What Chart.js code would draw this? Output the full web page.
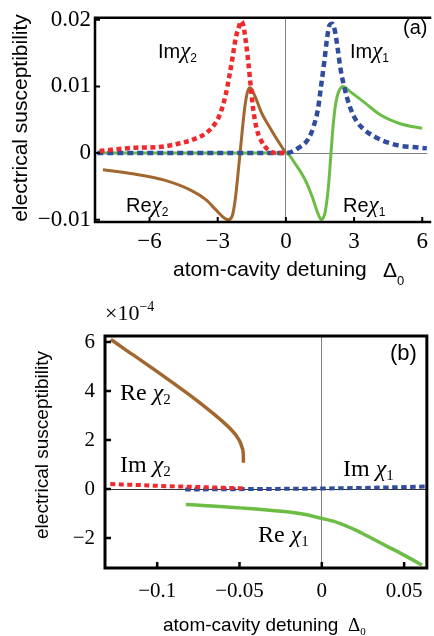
<!DOCTYPE html>
<html>
<head>
<meta charset="utf-8">
<script src="https://cdn.jsdelivr.net/npm/chart.js@4.4.1/dist/chart.umd.min.js"></script>
<style>
  html, body { margin: 0; padding: 0; background: #fff; overflow: hidden; }
  .panel { position: absolute; left: 0; width: 434px; }
  #pa { top: 0; height: 300px; }
  #pb { top: 300px; height: 336px; }
</style>
</head>
<body>
<div class="panel" id="pa"><canvas id="ca"></canvas></div>
<div class="panel" id="pb"><canvas id="cb"></canvas></div>
<script>
// ---------- panel (a): wide detuning range ----------
const reChi1X_a = [-8.3, -4, 0, 0.43, 0.86, 1.15, 1.37, 1.46, 1.55, 1.63, 1.72, 1.87, 1.98, 2.08, 2.20, 2.33, 2.51, 2.87, 3.45, 4.17, 5.03, 6.0];
const reChi1Y_a = [0, 0, 0, -0.0017, -0.0041, -0.0065, -0.0087, -0.0095, -0.0100, -0.0098, -0.0090, -0.0051, -0.0002, 0.0042, 0.0076, 0.0093, 0.0100, 0.0091, 0.0076, 0.0057, 0.0044, 0.0037];

const imChi1X_a = [-8.3, -4, 0, 0.57, 1.0, 1.22, 1.41, 1.55, 1.70, 1.80, 1.91, 2.04, 2.16, 2.27, 2.41, 2.59, 2.80, 3.09, 3.45, 3.88, 4.31, 5.0, 5.6, 6.2];
const imChi1Y_a = [0, 0, 0, 0.0008, 0.0022, 0.0040, 0.0066, 0.0101, 0.0140, 0.0169, 0.0191, 0.0194, 0.0183, 0.0159, 0.0125, 0.0096, 0.0071, 0.0049, 0.0035, 0.0025, 0.0018, 0.0011, 0.0009, 0.0007];

const imChi2X_a = [-8.2, -6.61, -5.6, -4.74, -3.95, -3.52, -3.16, -2.87, -2.66, -2.49, -2.34, -2.20, -2.08, -1.97, -1.87, -1.77, -1.65, -1.55, -1.44, -1.29, -1.08, -0.79, -0.43, 0];
const imChi2Y_a = [0.0003, 0.0008, 0.0009, 0.0014, 0.0022, 0.0030, 0.0042, 0.0061, 0.0086, 0.0115, 0.0145, 0.0174, 0.0188, 0.0198, 0.0191, 0.0169, 0.0135, 0.0101, 0.0066, 0.0037, 0.0018, 0.0005, 0.0000, 0];

const reChi2X_a = [-8.05, -6.75, -5.31, -4.17, -3.52, -3.09, -2.73, -2.54, -2.37, -2.23, -2.08, -1.94, -1.80, -1.68, -1.57, -1.37, -1.08, -0.65, -0.29, 0];
const reChi2Y_a = [-0.0025, -0.0031, -0.0041, -0.0056, -0.0070, -0.0085, -0.0097, -0.0100, -0.0095, -0.0070, -0.0022, 0.0027, 0.0071, 0.0093, 0.0098, 0.0086, 0.0061, 0.0035, 0.0015, 0];

const xTicks_a = [-6, -3, 0, 3, 6];
const xTickLabels_a = ['\u22126', '\u22123', '0', '3', '6'];
const yTicks_a = [-0.01, 0, 0.01, 0.02];
const yTickLabels_a = ['\u22120.01', '0', '0.01', '0.02'];

// ---------- panel (b): narrow detuning range (units of 1e-4) ----------
const reChi2X_b = [-0.1282, -0.12, -0.11, -0.10, -0.09, -0.08, -0.07, -0.06, -0.055, -0.052, -0.0495, -0.0483, -0.0477, -0.0476];
const reChi2Y_b = [6.11, 5.72, 5.26, 4.79, 4.31, 3.82, 3.30, 2.74, 2.42, 2.18, 1.90, 1.66, 1.42, 1.07];

const imChi2X_b = [-0.1285, -0.11, -0.10, -0.08, -0.06, -0.0476];
const imChi2Y_b = [0.20, 0.16, 0.13, 0.09, 0.05, 0.03];

const imChi1X_b = [-0.083, -0.04, 0, 0.03, 0.0638];
const imChi1Y_b = [-0.02, 0.0, 0.02, 0.05, 0.10];

const reChi1X_b = [-0.0826, -0.07, -0.06, -0.05, -0.04, -0.03, -0.02, -0.01, 0, 0.01, 0.02, 0.03, 0.04, 0.05, 0.0608];
const reChi1Y_b = [-0.63, -0.68, -0.72, -0.77, -0.82, -0.88, -0.94, -1.04, -1.20, -1.38, -1.66, -2.00, -2.35, -2.70, -3.10];

const xTicks_b = [-0.1, -0.05, 0, 0.05];
const xTickLabels_b = ['\u22120.1', '\u22120.05', '0', '0.05'];
const yTicks_b = [-2, 0, 2, 4, 6];
const yTickLabels_b = ['\u22122', '0', '2', '4', '6'];

// ---------- styling ----------
const RED = '#ee2a2e', BLUE = '#2f4c9e', GREEN = '#6cbd45', BROWN = '#a2672f';
const SANS = '"Liberation Sans", Arial, sans-serif';
const SERIF = '"Liberation Serif", "Times New Roman", serif';

const zip = (xs, ys) => xs.map((x, i) => ({ x, y: ys[i] }));

function drawRuns(ctx, x, y, runs) {
  let cx = x;
  for (const [t, f, dy] of runs) {
    ctx.font = f;
    ctx.fillText(t, cx, y + dy);
    cx += ctx.measureText(t).width;
  }
}

// frame, inward tick marks and annotation text
function makeDecor(cfg) {
  return {
    id: 'decor',
    afterDatasetsDraw(chart) {
      const { ctx, chartArea: a, scales } = chart;
      ctx.save();
      ctx.strokeStyle = '#000';
      ctx.lineWidth = cfg.tickWidth;
      ctx.beginPath();
      for (const v of cfg.xTicks) {
        const px = scales.x.getPixelForValue(v);
        ctx.moveTo(px, a.bottom); ctx.lineTo(px, a.bottom - cfg.tickLen);
      }
      for (const v of cfg.yTicks) {
        const py = scales.y.getPixelForValue(v);
        ctx.moveTo(a.left, py); ctx.lineTo(a.left + cfg.tickLen, py);
      }
      ctx.stroke();

      ctx.lineWidth = cfg.frameWidth;
      ctx.lineJoin = 'miter';
      ctx.beginPath();
      if (cfg.closed) {
        ctx.rect(a.left, a.top, a.right - a.left, a.bottom - a.top);
      } else {
        ctx.moveTo(a.right + 4, a.top);
        ctx.lineTo(a.left, a.top);
        ctx.lineTo(a.left, a.bottom);
        ctx.lineTo(a.right + 4, a.bottom);
      }
      ctx.stroke();

      ctx.fillStyle = '#000';
      ctx.textAlign = 'left';
      ctx.textBaseline = 'alphabetic';
      for (const lab of cfg.labels) drawRuns(ctx, lab.x, lab.y, lab.runs);

      // vertical axis title
      ctx.save();
      ctx.translate(cfg.yTitle.x, cfg.yTitle.y);
      ctx.rotate(-Math.PI / 2);
      ctx.textAlign = 'center';
      ctx.textBaseline = 'middle';
      ctx.font = cfg.yTitle.font;
      ctx.fillText(cfg.yTitle.text, 0, 0);
      ctx.restore();
      ctx.restore();
    }
  };
}

function zeroGrid(color) {
  return {
    drawTicks: false,
    lineWidth: 1,
    color: c => (c.tick && c.tick.value === 0) ? color : 'rgba(0,0,0,0)'
  };
}

function lineSet(data, color, width, dash, order) {
  return {
    data, borderColor: color, borderWidth: width, borderDash: dash || [],
    pointRadius: 0, fill: false, cubicInterpolationMode: 'monotone',
    borderCapStyle: 'butt', order
  };
}

Chart.defaults.animation = false;

// ---------- chart (a) ----------
new Chart(document.getElementById('ca'), {
  type: 'line',
  data: {
    datasets: [
      lineSet(zip(imChi2X_a, imChi2Y_a), RED, 4.5, [5, 3.5], 0),
      lineSet(zip(imChi1X_a, imChi1Y_a), BLUE, 4.5, [6, 4], 1),
      lineSet(zip(reChi2X_a, reChi2Y_a), BROWN, 3, null, 2),
      lineSet(zip(reChi1X_a, reChi1Y_a), GREEN, 3, null, 3)
    ]
  },
  options: {
    responsive: true, maintainAspectRatio: false, animation: false,
    layout: { padding: { top: 13, right: 0, left: 0, bottom: 0 }, autoPadding: false },
    plugins: { legend: { display: false }, tooltip: { enabled: false } },
    scales: {
      x: {
        type: 'linear', min: -8.4, max: 6.22,
        afterBuildTicks: s => { s.ticks = xTicks_a.map(v => ({ value: v })); },
        afterFit: s => { s.height = 78; },
        ticks: { callback: (v, i) => xTickLabels_a[i], autoSkip: false, maxRotation: 0, padding: 6,
                 color: '#000', font: { family: SERIF, size: 23 } },
        grid: zeroGrid('#808080'), border: { display: false }
      },
      y: {
        type: 'linear', min: -0.01035, max: 0.0203,
        afterBuildTicks: s => { s.ticks = yTicks_a.map(v => ({ value: v })); },
        afterFit: s => { s.width = 95; },
        ticks: { callback: (v, i) => yTickLabels_a[i], autoSkip: false, padding: 4,
                 color: '#000', font: { family: SERIF, size: 23 } },
        grid: zeroGrid('#808080'), border: { display: false }
      }
    }
  },
  plugins: [makeDecor({
    xTicks: xTicks_a, yTicks: yTicks_a, tickLen: 5, tickWidth: 2, frameWidth: 2.5, closed: false,
    yTitle: { text: 'electrical susceptibility', x: 21, y: 118, font: '21px ' + SANS },
    labels: [
      { x: 158, y: 57.5, runs: [['Im', '20px ' + SANS, 0], ['\u03c7', 'italic 23px ' + SERIF, 0], ['2', '12px ' + SANS, 4]] },
      { x: 350, y: 57.5, runs: [['Im', '20px ' + SANS, 0], ['\u03c7', 'italic 23px ' + SERIF, 0], ['1', '12px ' + SANS, 4]] },
      { x: 126, y: 211.5, runs: [['Re', '20px ' + SANS, 0], ['\u03c7', 'italic 23px ' + SERIF, 0], ['2', '12px ' + SANS, 4]] },
      { x: 343, y: 211.5, runs: [['Re', '20px ' + SANS, 0], ['\u03c7', 'italic 23px ' + SERIF, 0], ['1', '12px ' + SANS, 4]] },
      { x: 403, y: 34, runs: [['(a)', '20px ' + SANS, 0]] },
      { x: 173, y: 276, runs: [['atom-cavity detuning', '21px ' + SANS, 0]] },
      { x: 383, y: 277, runs: [['\u0394', '21px ' + SANS, 0], ['0', '13px ' + SANS, 8]] }
    ]
  })]
});

// ---------- chart (b) ----------
new Chart(document.getElementById('cb'), {
  type: 'line',
  data: {
    datasets: [
      lineSet(zip(imChi2X_b, imChi2Y_b), RED, 4, [5, 3.5], 0),
      lineSet(zip(imChi1X_b, imChi1Y_b), BLUE, 4, [5.5, 3.5], 1),
      lineSet(zip(reChi2X_b, reChi2Y_b), BROWN, 3.5, null, 2),
      lineSet(zip(reChi1X_b, reChi1Y_b), GREEN, 3.5, null, 3)
    ]
  },
  options: {
    responsive: true, maintainAspectRatio: false, animation: false,
    layout: { padding: { top: 36, right: 7, left: 0, bottom: 0 }, autoPadding: false },
    plugins: { legend: { display: false }, tooltip: { enabled: false } },
    scales: {
      x: {
        type: 'linear', min: -0.1317, max: 0.0638,
        afterBuildTicks: s => { s.ticks = xTicks_b.map(v => ({ value: v })); },
        afterFit: s => { s.height = 68; },
        ticks: { callback: (v, i) => xTickLabels_b[i], autoSkip: false, maxRotation: 0, padding: 11,
                 color: '#000', font: { family: SERIF, size: 21 } },
        grid: zeroGrid('#808080'), border: { display: false }
      },
      y: {
        type: 'linear', min: -3.224, max: 6.245,
        afterBuildTicks: s => { s.ticks = yTicks_b.map(v => ({ value: v })); },
        afterFit: s => { s.width = 105; },
        ticks: { callback: (v, i) => yTickLabels_b[i], autoSkip: false, padding: 10,
                 color: '#000', font: { family: SERIF, size: 21 } },
        grid: zeroGrid('#333333'), border: { display: false }
      }
    }
  },
  plugins: [makeDecor({
    xTicks: xTicks_b, yTicks: yTicks_b, tickLen: 6, tickWidth: 2.5, frameWidth: 3, closed: true,
    yTitle: { text: 'electrical susceptibility', x: 43, y: 145, font: '19px ' + SANS },
    labels: [
      { x: 120, y: 100, runs: [['Re ', '24px ' + SERIF, 0], ['\u03c7', 'italic 24px ' + SERIF, 0], ['2', '15px ' + SERIF, 4]] },
      { x: 120, y: 172, runs: [['Im ', '24px ' + SERIF, 0], ['\u03c7', 'italic 24px ' + SERIF, 0], ['2', '15px ' + SERIF, 4]] },
      { x: 343, y: 176, runs: [['Im ', '24px ' + SERIF, 0], ['\u03c7', 'italic 24px ' + SERIF, 0], ['1', '15px ' + SERIF, 4]] },
      { x: 258, y: 241.5, runs: [['Re ', '24px ' + SERIF, 0], ['\u03c7', 'italic 24px ' + SERIF, 0], ['1', '15px ' + SERIF, 4]] },
      { x: 390, y: 60, runs: [['(b)', '22px ' + SANS, 0]] },
      { x: 105, y: 20, runs: [['\u00d710', '22px ' + SERIF, 0], ['\u22124', '14px ' + SERIF, -9]] },
      { x: 163, y: 331, runs: [['atom-cavity detuning', '19px ' + SANS, 0]] },
      { x: 348, y: 331, runs: [['\u0394', '19px ' + SERIF, 0], ['0', '11px ' + SERIF, 4]] }
    ]
  })]
});
</script>
</body>
</html>
